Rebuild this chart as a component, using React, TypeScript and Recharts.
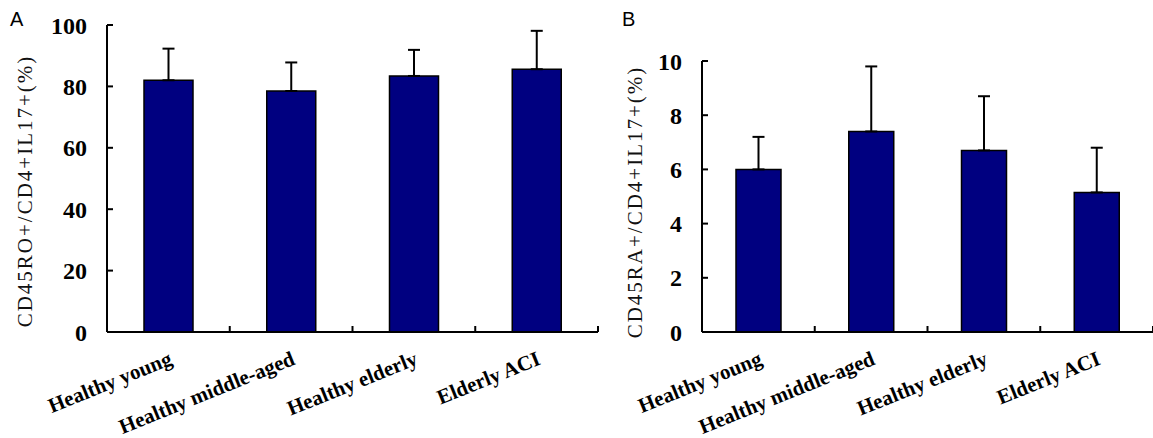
import React from 'react';
import { BarChart, Bar, XAxis, YAxis, ErrorBar, Label } from 'recharts';

const categories = ['Healthy young', 'Healthy middle-aged', 'Healthy elderly', 'Elderly ACI'];
const roValues = [82.0, 78.5, 83.4, 85.6];
const roErrors = [10.3, 9.3, 8.5, 12.5];
const raValues = [6.0, 7.4, 6.7, 5.15];
const raErrors = [1.2, 2.4, 2.0, 1.65];
const yTicksA = [0, 20, 40, 60, 80, 100];
const yTicksB = [0, 2, 4, 6, 8, 10];

const dataA = categories.map((c, i) => ({ name: c, value: roValues[i], err: [0, roErrors[i]] }));
const dataB = categories.map((c, i) => ({ name: c, value: raValues[i], err: [0, raErrors[i]] }));

const SERIF = '"Liberation Serif", "Times New Roman", serif';
const NAVY = '#000080';
const Y_TICK_GAP = 20;
const TICK_LEN = 6;

const CategoryTick = (props: any) => {
  const { x, y, payload, band } = props;
  const ax = x + 5;
  const ay = y + 32;
  const bx = x + band / 2;
  return (
    <g>
      <line x1={bx} x2={bx} y1={y} y2={y - TICK_LEN} stroke="#000" strokeWidth={2} />
      <text
        x={ax}
        y={ay}
        transform={`rotate(-22, ${ax}, ${ay})`}
        textAnchor="end"
        fontFamily={SERIF}
        fontWeight="bold"
        fontSize={21}
        fill="#000"
      >
        {payload.value}
      </text>
    </g>
  );
};

const ValueTick = (props: any) => {
  const { x, y, payload } = props;
  const axisX = x + Y_TICK_GAP;
  return (
    <g>
      <line x1={axisX} x2={axisX + TICK_LEN} y1={y} y2={y} stroke="#000" strokeWidth={2} />
      <text
        x={x}
        y={y}
        dy="0.36em"
        textAnchor="end"
        fontFamily={SERIF}
        fontWeight="bold"
        fontSize={24}
        fill="#000"
      >
        {payload.value}
      </text>
    </g>
  );
};

const YLabel = (cx: number, cy: number, text: string) => (props: any) => (
  <text
    x={cx}
    y={cy}
    transform={`rotate(-90, ${cx}, ${cy})`}
    textAnchor="middle"
    dominantBaseline="central"
    fontFamily={SERIF}
    fontSize={21}
    letterSpacing={2}
    fill="#111"
  >
    {text}
  </text>
);

function Panel(props: {
  data: any[];
  width: number;
  margin: any;
  yWidth: number;
  domain: number[];
  ticks: number[];
  barSize: number;
  labelX: number;
  labelY: number;
  labelText: string;
}) {
  const { data, width, margin, yWidth, domain, ticks, barSize, labelX, labelY, labelText } = props;
  const band = (width - margin.left - margin.right - yWidth) / data.length;
  return (
    <BarChart width={width} height={438} data={data} margin={margin}>
      <XAxis
        dataKey="name"
        height={80}
        axisLine={{ stroke: '#000', strokeWidth: 2 }}
        tickLine={false}
        tickSize={0}
        tickMargin={0}
        tick={<CategoryTick band={band} />}
        interval={0}
      />
      <YAxis
        width={yWidth}
        domain={domain}
        ticks={ticks}
        interval={0}
        axisLine={{ stroke: '#000', strokeWidth: 2 }}
        tickLine={false}
        tickSize={0}
        tickMargin={Y_TICK_GAP}
        tick={<ValueTick />}
      >
        <Label content={YLabel(labelX, labelY, labelText)} />
      </YAxis>
      <Bar dataKey="value" fill={NAVY} stroke="#000" strokeWidth={1.5} barSize={barSize} isAnimationActive={false}>
        <ErrorBar dataKey="err" width={6} stroke="#000" strokeWidth={2} direction="y" />
      </Bar>
    </BarChart>
  );
}

export default function App() {
  return (
    <div style={{ position: 'absolute', left: 0, top: 0, width: 1153, height: 438, background: '#fff', overflow: 'hidden' }}>
      <div style={{ position: 'absolute', left: 10, top: 7, fontFamily: '"Liberation Sans", Arial, sans-serif', fontSize: 20, lineHeight: '24px' }}>A</div>
      <div style={{ position: 'absolute', left: 622, top: 7, fontFamily: '"Liberation Sans", Arial, sans-serif', fontSize: 20, lineHeight: '24px' }}>B</div>
      <div style={{ position: 'absolute', left: 0, top: 0 }}>
        <Panel
          data={dataA}
          width={600}
          margin={{ top: 25, right: 2, bottom: 26, left: 0 }}
          yWidth={107}
          domain={[0, 100]}
          ticks={yTicksA}
          barSize={49}
          labelX={25}
          labelY={191}
          labelText="CD45RO+/CD4+IL17+(%)"
        />
      </div>
      <div style={{ position: 'absolute', left: 600, top: 0 }}>
        <Panel
          data={dataB}
          width={553}
          margin={{ top: 61, right: 0, bottom: 26, left: 0 }}
          yWidth={102}
          domain={[0, 10]}
          ticks={yTicksB}
          barSize={45}
          labelX={35}
          labelY={202}
          labelText="CD45RA+/CD4+IL17+(%)"
        />
      </div>
    </div>
  );
}
